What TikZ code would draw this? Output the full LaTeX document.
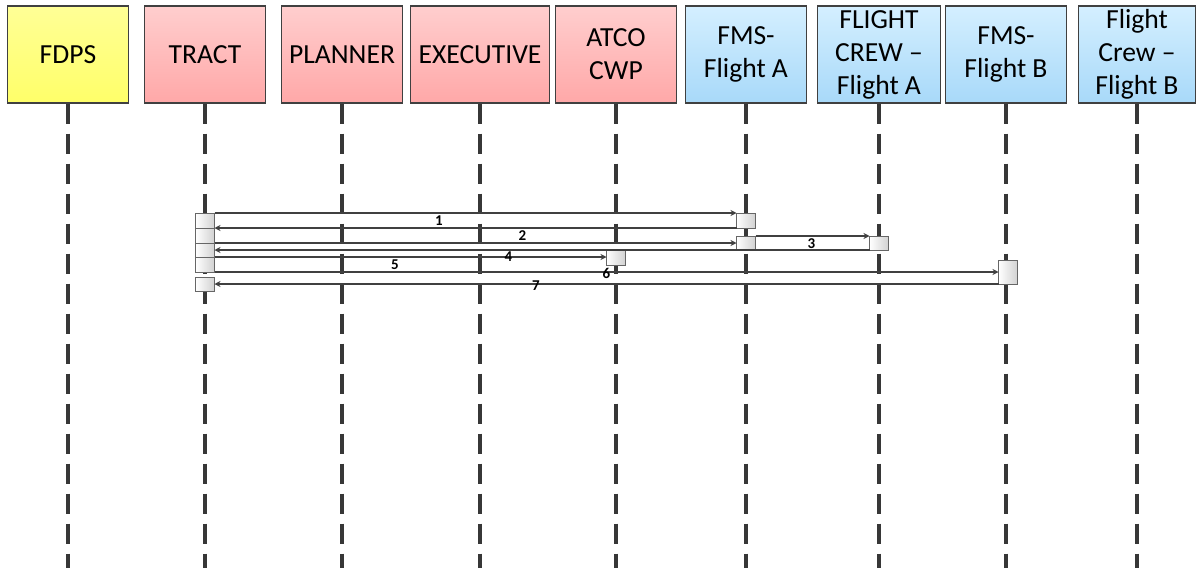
\documentclass[tikz,border=0pt]{standalone}
\usepackage{fontspec}
\setmainfont{Carlito}
\usetikzlibrary{positioning,arrows.meta}
\definecolor{edgeDark}{RGB}{64,64,64}
\definecolor{lifeDark}{RGB}{55,55,55}
\definecolor{fdpsTop}{RGB}{255,255,150}
\definecolor{fdpsBot}{RGB}{255,255,105}
\definecolor{atcTop}{RGB}{255,206,206}
\definecolor{atcBot}{RGB}{255,168,168}
\definecolor{acTop}{RGB}{212,239,255}
\definecolor{acBot}{RGB}{168,217,249}

\begin{document}
\begin{tikzpicture}[x=0.5pt,y=-0.5pt,
  font=\fontsize{13.8}{16.5}\selectfont,
  head/.style={draw=edgeDark,line width=0.7pt,minimum width=60.5pt,
               minimum height=48.5pt,align=center,inner sep=1pt,text=black},
  ground/.style={head,top color=fdpsTop,bottom color=fdpsBot},
  atc/.style={head,top color=atcTop,bottom color=atcBot},
  air/.style={head,top color=acTop,bottom color=acBot},
  life/.style={draw=lifeDark,line width=2.3pt,dash pattern=on 10pt off 5pt},
  act/.style={draw=edgeDark!80,line width=0.5pt,left color=white,right color=black!18,
              minimum width=9.5pt,inner sep=0pt,outer sep=0pt},
  msg/.style={-{Stealth[length=3pt,width=3pt]},draw=edgeDark,line width=0.7pt},
  lbl/.style={font=\fontsize{7.5}{8}\selectfont\bfseries,inner sep=1pt,text=black}
]
\useasboundingbox (0,0) rectangle (1196,568);

% ---- columns ----
\def\xFD{68}    % FDPS
\def\xTR{205}   % TRACT
\def\xPL{342}   % PLANNER
\def\xEX{480}   % EXECUTIVE
\def\xAT{616}   % ATCO CWP
\def\xFA{746}   % FMS-Flight A
\def\xCA{879}   % crew A
\def\xFB{1008}  % FMS-Flight B
\def\xCB{1137}  % crew B

% ---- lifeline heads ----
\node[ground] (hFD) at (\xFD,54.5) {FDPS};
\node[atc] (hTR) at (\xTR,54.5) {TRACT};
\node[atc] (hPL) at (\xPL,54.5) {PLANNER};
\node[atc,minimum width=69.5pt] (hEX) at (\xEX,54.5) {EXECUTIVE};
\node[atc] (hAT) at (\xAT,54.5) {ATCO\\CWP};
\node[air] (hFA) at (\xFA,54.5) {FMS-\\Flight A};
\node[air,minimum width=61.5pt] (hCA) at (\xCA,54.5) {FLIGHT\\CREW --\\Flight A};
\node[air] (hFB) at (1006,54.5) {FMS-\\Flight B};
\node[air,minimum width=58.5pt] (hCB) at (\xCB,54.5) {Flight\\Crew --\\Flight B};

% ---- lifelines ----
\foreach \n in {hFD,hTR,hPL,hEX,hAT,hFA,hCA,hFB,hCB}{
  \draw[life] (\n.south) -- (\n.south |- 0,568);
}

% ---- activation boxes ----
\node[act,minimum height=7.5pt] (tr1) at (\xTR,220.5) {};
\node[act,minimum height=7.5pt] (tr2) at (\xTR,235.5) {};
\node[act,minimum height=7pt]   (tr3) at (\xTR,250) {};
\node[act,minimum height=7.5pt] (tr4) at (\xTR,264.5) {};
\node[act,minimum height=7pt]   (tr5) at (\xTR,284) {};
\node[act,minimum height=7.5pt] (fa1) at (\xFA,220.5) {};
\node[act,minimum height=7pt]   (fa2) at (\xFA,243) {};
\node[act,minimum height=7pt]   (ca1) at (\xCA,243) {};
\node[act,minimum height=8pt]   (at1) at (\xAT,257) {};
\node[act,minimum height=12pt]  (fb1) at (\xFB,272) {};

% ---- messages ----
\draw[msg] (tr1.north east) -- node[lbl,below,pos=.43]{1} (fa1.north west);
\draw[msg] (fa1.south west) -- (tr1.south east);
\draw[msg] (tr2.south east) -- node[lbl,above,pos=.59]{2} (fa2.west);
\draw[msg] (fa2.north east) -- node[lbl,below,pos=.49]{3} (ca1.north west);
\draw[msg] (ca1.south west) -- (tr3.east);
\draw[msg] (tr4.north east) -- node[lbl,pos=.75]{4} (at1.west);
\draw[msg] (tr4.south east) -- node[lbl,above,pos=.23]{5} (fb1.west);
\node[lbl,below=0.5pt of at1.south west] (m6) {6};
\draw[msg] (fb1.south west) -- node[lbl,pos=.59,yshift=-1pt]{7} (tr5.east);

\end{tikzpicture}
\end{document}
